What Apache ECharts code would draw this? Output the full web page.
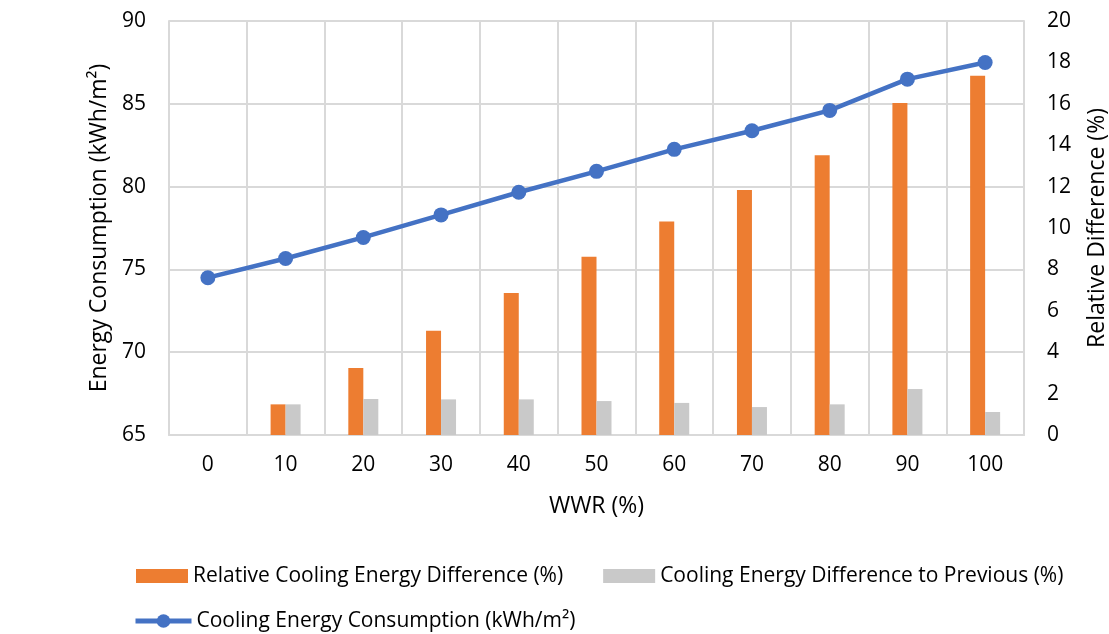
<!DOCTYPE html>
<html>
<head>
<meta charset="utf-8">
<script src="https://cdn.jsdelivr.net/npm/echarts@6/dist/echarts.min.js"></script>
<style>
  html, body { margin: 0; padding: 0; background: #fff; }
  #chart { width: 1109px; height: 634px; }
</style>
</head>
<body>
<div id="chart"></div>
<script>
// WWR steps (%)
const categories = ['0', '10', '20', '30', '40', '50', '60', '70', '80', '90', '100'];
// Cooling energy consumption (kWh/m²) — left axis
const coolingConsumption = [74.5, 75.66, 76.93, 78.29, 79.66, 80.92, 82.25, 83.37, 84.6, 86.49, 87.49];
// Relative cooling energy difference vs. 0% WWR (%) — right axis
const relativeDiff = [0, 1.48, 3.24, 5.04, 6.86, 8.61, 10.32, 11.84, 13.51, 16.04, 17.36];
// Difference to the previous WWR step (%) — right axis
const diffToPrevious = [0, 1.48, 1.74, 1.72, 1.72, 1.64, 1.55, 1.35, 1.48, 2.22, 1.11];

const FONT = 'Open Sans';
const TXT = '#000';
const GRID = '#D9D9D9';
const BLUE = '#4472C4';
const TICK_SIZE = 21;
const TITLE_SIZE = 23;

const chart = echarts.init(document.getElementById('chart'), null, { renderer: 'canvas' });
chart.setOption({
  animation: false,
  textStyle: { fontFamily: FONT, color: TXT },
  grid: { left: 169, right: 85, top: 21, bottom: 199, containLabel: false, outerBoundsMode: 'none' },
  legend: [
    {
      left: 136, top: 564, padding: 0,
      itemWidth: 52, itemHeight: 14, itemGap: 40,
      icon: 'rect',
      textStyle: { fontFamily: FONT, fontSize: TICK_SIZE, color: TXT, lineHeight: 24 },
      data: ['Relative Cooling Energy Difference (%)', 'Cooling Energy Difference to Previous (%)']
    },
    {
      left: 133, top: 609, padding: 0,
      itemWidth: 56, itemHeight: 17,
      lineStyle: { width: 5, color: BLUE },
      textStyle: { fontFamily: FONT, fontSize: TICK_SIZE, color: TXT, lineHeight: 24 },
      data: ['Cooling Energy Consumption (kWh/m²)']
    }
  ],
  xAxis: {
    type: 'category',
    data: categories,
    boundaryGap: true,
    name: 'WWR (%)',
    nameLocation: 'middle',
    nameGap: 60,
    nameTextStyle: { fontFamily: FONT, fontSize: TITLE_SIZE, color: TXT },
    axisLine: { show: true, lineStyle: { color: GRID, width: 2 } },
    axisTick: { show: false },
    axisLabel: { fontFamily: FONT, fontSize: TICK_SIZE, color: TXT, margin: 20 },
    splitLine: { show: true, lineStyle: { color: GRID, width: 2 } }
  },
  yAxis: [
    {
      type: 'value',
      min: 65, max: 90, interval: 5,
      name: 'Energy Consumption (kWh/m²)',
      nameLocation: 'middle',
      nameGap: 57,
      nameTextStyle: { fontFamily: FONT, fontSize: TITLE_SIZE, color: TXT },
      axisLine: { show: true, lineStyle: { color: GRID, width: 2 } },
      axisTick: { show: false },
      axisLabel: { fontFamily: FONT, fontSize: TICK_SIZE, color: TXT, margin: 23 },
      splitLine: { show: true, lineStyle: { color: GRID, width: 2 } }
    },
    {
      type: 'value',
      min: 0, max: 20, interval: 2,
      name: 'Relative Difference (%)',
      nameLocation: 'middle',
      nameGap: 62,
      nameRotate: 90,
      nameTextStyle: { fontFamily: FONT, fontSize: TITLE_SIZE, color: TXT },
      axisLine: { show: true, lineStyle: { color: GRID, width: 2 } },
      axisTick: { show: false },
      axisLabel: { fontFamily: FONT, fontSize: TICK_SIZE, color: TXT, margin: 23 },
      splitLine: { show: false }
    }
  ],
  series: [
    {
      name: 'Relative Cooling Energy Difference (%)',
      type: 'bar',
      yAxisIndex: 1,
      data: relativeDiff,
      barWidth: 15,
      barGap: '0%',
      itemStyle: { color: '#ED7D31' }
    },
    {
      name: 'Cooling Energy Difference to Previous (%)',
      type: 'bar',
      yAxisIndex: 1,
      data: diffToPrevious,
      barWidth: 15,
      barGap: '0%',
      itemStyle: { color: '#C9C9C9' }
    },
    {
      name: 'Cooling Energy Consumption (kWh/m²)',
      type: 'line',
      yAxisIndex: 0,
      data: coolingConsumption,
      symbol: 'circle',
      symbolSize: 15,
      lineStyle: { color: BLUE, width: 4.5 },
      itemStyle: { color: BLUE },
      z: 5
    }
  ]
});
</script>
</body>
</html>
